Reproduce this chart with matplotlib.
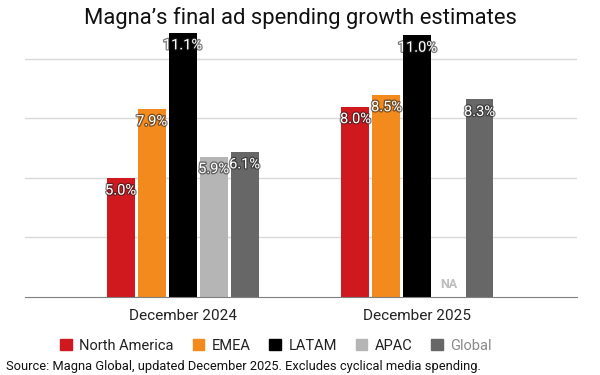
import matplotlib
matplotlib.use("Agg")
import matplotlib.pyplot as plt
import matplotlib.patheffects as pe
import numpy as np

plt.rcParams['font.family'] = ['Roboto', 'DejaVu Sans']

periods = ["December 2024", "December 2025"]
regions = ["North America", "EMEA", "LATAM", "APAC", "Global"]
colors = ["#D0181F", "#F28A1D", "#000000", "#B5B5B5", "#676767"]
values = {
    "North America": [5.0, 8.0],
    "EMEA": [7.9, 8.5],
    "LATAM": [11.1, 11.0],
    "APAC": [5.9, None],
    "Global": [6.1, 8.3],
}

fig = plt.figure(figsize=(6, 3.75), dpi=100)
ax = fig.add_axes([0.042, 0.208, 0.92, 0.711])

x = np.arange(len(periods))
step = 0.132
width = 0.119
halo = [pe.withStroke(linewidth=1.8, foreground="#222222", alpha=0.6)]

for i, (reg, col) in enumerate(zip(regions, colors)):
    pos = x + (i - 2) * step
    for xp, v in zip(pos, values[reg]):
        if v is None:
            ax.text(xp, 0.25, "NA", ha="center", va="bottom", color="#BDBDBD",
                    fontsize=9, fontweight="bold")
            continue
        ax.bar(xp, v, width, color=col, zorder=3)
        ax.annotate(f"{v:.1f}%", (xp, v), xytext=(0, -4), textcoords="offset points",
                    ha="center", va="top", color="white", fontsize=10.5,
                    path_effects=halo, zorder=4)

ax.set_xlim(-0.67, 1.68)
ax.set_ylim(0, 11.2)
ax.set_yticks([2.5, 5, 7.5, 10])
ax.yaxis.grid(True, color="#D9D9D9", linewidth=1, zorder=0)
ax.tick_params(axis="y", left=False, labelleft=False)
ax.tick_params(axis="x", length=0, pad=9, labelsize=11, labelcolor="#222222")
ax.set_xticks(x)
ax.set_xticklabels(periods)
for s in ["top", "right", "left"]:
    ax.spines[s].set_visible(False)
ax.spines["bottom"].set_color("#7F7F7F")
ax.spines["bottom"].set_zorder(5)

fig.text(0.5, 0.953, "Magna\u2019s final ad spending growth estimates", ha="center",
         va="center", fontsize=15.8, color="#111111")

handles = [plt.Rectangle((0, 0), 1, 1, color=c) for c in colors]
leg = fig.legend(handles, regions, loc="center", bbox_to_anchor=(0.46, 0.078), ncol=5,
                 frameon=False, fontsize=10.5, handlelength=0.8, handleheight=0.8,
                 handletextpad=0.5, columnspacing=1.3)
for t in leg.get_texts():
    t.set_color("#222222")
leg.get_texts()[-1].set_color("#8A8A8A")

fig.text(0.01, 0.022, "Source: Magna Global, updated December 2025. Excludes cyclical media spending.",
         ha="left", va="center", fontsize=9.3, color="#111111")

fig.savefig("out.png", dpi=100)
